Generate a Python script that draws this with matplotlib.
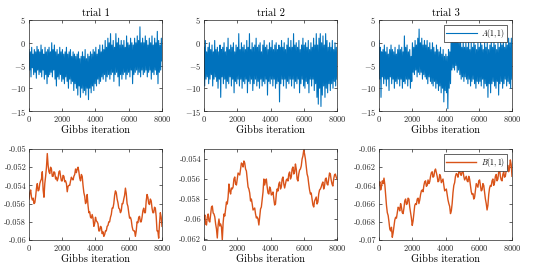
import numpy as np
import matplotlib
matplotlib.use("Agg")
import matplotlib.pyplot as plt
from matplotlib.ticker import FuncFormatter

plt.rcParams['font.family'] = ['cmr10', 'DejaVu Serif']
plt.rcParams['mathtext.fontset'] = 'cm'
plt.rcParams['axes.unicode_minus'] = False
plt.rcParams['axes.formatter.use_mathtext'] = True

# A(1,1) traces, values (high/low excursions in order)
a_trial1 = [
    -1.5, -6.0, -2.0, -7.5, -1.0, -5.5, -2.5, -7.0, -1.5, -6.5,
    -2.0, -7.8, -0.8, -6.0, -1.5, -7.0, -2.0, -6.5, -0.5, -7.5,
    -1.5, -6.0, -2.5, -8.0, -1.0, -7.0, -2.0, -9.0, -1.5, -7.5,
    -1.0, -7.0, -2.0, -6.5, 0.0, -7.5, -1.5, -6.0, -0.5, -8.0,
    -2.0, -9.5, -1.5, -7.5, -2.5, -8.0, -1.0, -7.0, -2.0, -8.5,
    -1.5, -8.0, -2.5, -9.0, -2.0, -7.5, -1.0, -8.5, -2.5, -10.0,
    -2.0, -8.0, -1.5, -9.0, -3.0, -8.5, -2.0, -10.5, -2.5, -9.0,
    -3.0, -10.0, -2.5, -11.5, -2.0, -9.5, -3.5, -12.0, -3.0, -10.0,
    -2.0, -11.0, -3.0, -10.5, -1.5, -11.5, -3.5, -10.0, -2.5, -12.5,
    -3.0, -10.0, -2.0, -11.0, -2.5, -9.5, -1.5, -10.5, -2.0, -9.0,
    -1.0, -9.5, -2.5, -8.0, -1.5, -9.0, -0.5, -8.5, -2.0, -7.5,
    -0.5, -8.0, -1.5, -7.0, 0.5, -8.5, -1.0, -7.5, 1.0, -7.0,
    0.0, -8.0, 2.0, -7.0, -0.5, -6.5, 0.5, -8.5, -1.0, -7.0,
    2.0, -6.5, 0.0, -7.5, 1.0, -9.5, -0.5, -7.0, 0.5, -8.0,
    -0.5, -7.0, 0.5, -6.5, -1.0, -8.0, 1.5, -7.0, 0.0, -6.5,
    -0.5, -7.5, 1.0, -6.0, 0.0, -9.0, -0.5, -7.0, 1.0, -6.5,
    0.0, -6.0, 1.5, -7.0, 0.5, -6.5, 3.5, -7.5, 0.0, -6.0,
    1.0, -7.0, 0.0, -6.5, 1.5, -6.0, 0.5, -7.5, -0.5, -6.5,
    1.0, -6.0, 0.0, -8.0, 1.5, -6.5, -0.5, -7.0, 1.0, -6.0,
    0.0, -7.0, 2.5, -9.0, 0.5, -6.5, -0.5, -6.0, 1.0, -4.0,
]
a_trial2 = [
    -1.0, -9.5, 0.5, -8.0, -2.0, -7.5, -1.0, -9.0, 0.0, -8.0,
    -1.5, -7.0, -0.5, -9.5, -2.0, -8.0, 0.5, -7.5, -1.5, -8.5,
    -1.0, -10.0, -2.0, -8.0, -0.5, -12.0, -1.5, -7.5, -1.0, -9.0,
    0.0, -8.0, -2.0, -10.0, -1.0, -8.5, 1.0, -9.0, -1.5, -7.5,
    -0.5, -9.5, -1.0, -8.0, 0.0, -11.0, -2.0, -8.5, -0.5, -9.0,
    -1.0, -8.0, 2.0, -9.5, -1.5, -8.0, 0.0, -10.0, -1.0, -8.5,
    -0.5, -9.0, -1.5, -8.0, 0.5, -11.0, -1.0, -8.5, 2.0, -9.0,
    -1.5, -8.0, 0.0, -10.5, -1.0, -9.0, -0.5, -8.0, 1.0, -9.5,
    -1.0, -8.5, -0.5, -10.0, 0.0, -8.0, -2.0, -9.5, -0.5, -8.5,
    0.5, -9.0, -1.0, -8.0, -0.5, -11.5, -1.5, -8.5, 0.0, -9.0,
    -1.0, -8.0, 0.5, -9.5, -1.5, -8.0, -0.5, -10.0, 0.0, -9.0,
    -1.5, -8.5, -0.5, -13.0, -1.0, -9.0, 0.5, -8.0, -1.0, -9.5,
    0.0, -8.0, -1.5, -10.0, -0.5, -8.5, 1.0, -9.0, -1.0, -8.0,
    0.5, -9.5, -1.0, -8.0, 2.0, -10.0, -0.5, -8.5, 0.0, -9.0,
    -1.0, -8.0, 0.5, -11.0, -1.5, -9.0, -0.5, -8.0, 1.0, -9.5,
    -0.5, -10.0, 0.0, -8.5, -1.0, -9.0, 0.5, -11.0, -1.5, -8.0,
    0.0, -9.5, -1.0, -8.0, 1.0, -10.5, -0.5, -9.0, 2.0, -12.0,
    -0.5, -13.5, 1.0, -10.0, 2.0, -14.0, 0.0, -11.5, 1.5, -9.5,
    -0.5, -12.0, 2.0, -10.0, 0.5, -11.0, -1.0, -9.0, 0.0, -10.5,
    -1.0, -9.0, 0.5, -10.0, -1.5, -8.5, 0.0, -9.5, -1.0, -8.0,
]
a_trial3 = [
    0.5, -8.0, -1.0, -12.0, -2.0, -7.5, -1.5, -9.0, -0.5, -8.0,
    -2.0, -9.5, -1.0, -8.0, -2.5, -10.5, -1.5, -7.5, -0.5, -9.0,
    -1.5, -8.0, -2.0, -10.0, -1.0, -8.5, -2.5, -9.0, -1.5, -8.0,
    -0.5, -9.5, -1.5, -8.0, -1.0, -10.0, -2.0, -8.5, 1.5, -9.0,
    -1.0, -8.0, -0.5, -9.5, -2.0, -8.0, -1.5, -10.0, -3.0, -8.5,
    0.0, -6.5, -1.0, -7.0, 0.5, -6.0, -0.5, -7.5, 1.0, -6.5,
    3.0, -7.0, 0.0, -6.5, 1.0, -8.0, -0.5, -7.0, 0.5, -7.5,
    -0.5, -8.0, 0.5, -9.0, -1.0, -7.5, 0.0, -8.5, -1.5, -9.0,
    0.0, -9.5, -1.0, -8.5, -2.0, -10.0, -0.5, -9.0, -1.5, -10.5,
    -2.0, -9.5, -1.0, -11.0, -2.5, -10.0, -1.5, -13.0, -3.0, -10.5,
    -2.5, -11.0, -3.0, -14.5, -1.5, -10.0, -2.0, -9.0, 1.0, -6.0,
    1.5, -5.5, 0.5, -6.0, 2.0, -5.0, 1.0, -6.5, 1.5, -6.0,
    0.0, -7.0, 1.0, -8.0, -1.0, -7.5, 0.5, -8.5, -1.0, -7.5,
    0.0, -8.0, -1.0, -9.0, 0.5, -8.0, -1.5, -9.5, 0.0, -8.5,
    -1.0, -8.0, 0.5, -9.0, -0.5, -10.0, -1.5, -8.5, 0.0, -9.0,
    -1.0, -8.5, 0.5, -9.5, -0.5, -8.0, -1.5, -10.0, 0.0, -9.0,
    -1.0, -9.5, 0.0, -12.0, -1.5, -9.0, -0.5, -11.0, 0.5, -9.0,
    -1.0, -8.5, 0.5, -9.5, -0.5, -10.0, -1.5, -8.5, 0.0, -11.5,
    -1.0, -9.0, 0.5, -8.5, -0.5, -10.0, 1.0, -9.0, -1.0, -8.0,
    0.5, -9.5, -0.5, -8.5, 1.0, -9.0, 0.0, -10.0, 1.0, -8.0,
]

# B(1,1) traces, one value every 50 iterations
b_trial1 = [
    -0.0555, -0.0548, -0.0545, -0.0553, -0.0556, -0.0554, -0.0560, -0.0559, -0.0552, -0.0543,
    -0.0538, -0.0546, -0.0545, -0.0538, -0.0535, -0.0533, -0.0525, -0.0545, -0.0553, -0.0538,
    -0.0530, -0.0520, -0.0505, -0.0518, -0.0525, -0.0527, -0.0520, -0.0522, -0.0530, -0.0530,
    -0.0525, -0.0526, -0.0533, -0.0531, -0.0535, -0.0532, -0.0525, -0.0524, -0.0530, -0.0535,
    -0.0535, -0.0529, -0.0530, -0.0536, -0.0535, -0.0538, -0.0547, -0.0541, -0.0540, -0.0540,
    -0.0535, -0.0531, -0.0533, -0.0534, -0.0530, -0.0528, -0.0522, -0.0526, -0.0522, -0.0520,
    -0.0525, -0.0532, -0.0535, -0.0528, -0.0530, -0.0540, -0.0548, -0.0552, -0.0560, -0.0558,
    -0.0550, -0.0562, -0.0570, -0.0569, -0.0575, -0.0576, -0.0572, -0.0576, -0.0585, -0.0582,
    -0.0575, -0.0579, -0.0580, -0.0582, -0.0590, -0.0590, -0.0585, -0.0586, -0.0593, -0.0591,
    -0.0596, -0.0594, -0.0590, -0.0590, -0.0585, -0.0584, -0.0580, -0.0580, -0.0575, -0.0572,
    -0.0565, -0.0565, -0.0560, -0.0551, -0.0546, -0.0548, -0.0555, -0.0559, -0.0565, -0.0566,
    -0.0570, -0.0568, -0.0560, -0.0560, -0.0555, -0.0551, -0.0543, -0.0549, -0.0560, -0.0563,
    -0.0570, -0.0576, -0.0575, -0.0578, -0.0585, -0.0589, -0.0590, -0.0590, -0.0596, -0.0590,
    -0.0580, -0.0581, -0.0575, -0.0574, -0.0580, -0.0580, -0.0575, -0.0568, -0.0565, -0.0570,
    -0.0570, -0.0557, -0.0550, -0.0553, -0.0560, -0.0561, -0.0555, -0.0557, -0.0565, -0.0570,
    -0.0570, -0.0564, -0.0565, -0.0574, -0.0590, -0.0590, -0.0598, -0.0582, -0.0570, -0.0575,
    -0.0585,
]
b_trial2 = [
    -0.0600, -0.0596, -0.0605, -0.0606, -0.0598, -0.0595, -0.0602, -0.0603, -0.0595, -0.0588,
    -0.0587, -0.0594, -0.0595, -0.0598, -0.0605, -0.0610, -0.0619, -0.0606, -0.0600, -0.0607,
    -0.0605, -0.0608, -0.0621, -0.0604, -0.0595, -0.0597, -0.0590, -0.0583, -0.0585, -0.0578,
    -0.0565, -0.0572, -0.0575, -0.0569, -0.0570, -0.0568, -0.0560, -0.0558, -0.0565, -0.0566,
    -0.0560, -0.0554, -0.0555, -0.0556, -0.0550, -0.0544, -0.0545, -0.0548, -0.0542, -0.0544,
    -0.0550, -0.0552, -0.0560, -0.0568, -0.0570, -0.0574, -0.0582, -0.0580, -0.0585, -0.0591,
    -0.0590, -0.0589, -0.0595, -0.0599, -0.0598, -0.0600, -0.0606, -0.0598, -0.0590, -0.0588,
    -0.0580, -0.0573, -0.0560, -0.0566, -0.0562, -0.0560, -0.0568, -0.0574, -0.0575, -0.0568,
    -0.0570, -0.0576, -0.0575, -0.0573, -0.0580, -0.0586, -0.0585, -0.0575, -0.0570, -0.0572,
    -0.0565, -0.0563, -0.0570, -0.0568, -0.0560, -0.0558, -0.0565, -0.0569, -0.0565, -0.0561,
    -0.0560, -0.0562, -0.0555, -0.0553, -0.0560, -0.0558, -0.0550, -0.0548, -0.0555, -0.0553,
    -0.0545, -0.0550, -0.0560, -0.0562, -0.0555, -0.0551, -0.0550, -0.0547, -0.0540, -0.0537,
    -0.0531, -0.0535, -0.0540, -0.0548, -0.0555, -0.0558, -0.0565, -0.0571, -0.0575, -0.0574,
    -0.0580, -0.0586, -0.0588, -0.0582, -0.0580, -0.0578, -0.0585, -0.0583, -0.0575, -0.0571,
    -0.0570, -0.0568, -0.0565, -0.0563, -0.0570, -0.0567, -0.0560, -0.0559, -0.0565, -0.0566,
    -0.0560, -0.0554, -0.0555, -0.0561, -0.0565, -0.0567, -0.0560, -0.0556, -0.0555, -0.0558,
    -0.0560,
]
b_trial3 = [
    -0.0640, -0.0636, -0.0645, -0.0641, -0.0635, -0.0638, -0.0632, -0.0639, -0.0650, -0.0662,
    -0.0670, -0.0673, -0.0680, -0.0688, -0.0690, -0.0686, -0.0697, -0.0692, -0.0685, -0.0678,
    -0.0675, -0.0676, -0.0670, -0.0664, -0.0665, -0.0668, -0.0660, -0.0664, -0.0670, -0.0671,
    -0.0665, -0.0657, -0.0655, -0.0661, -0.0660, -0.0654, -0.0655, -0.0664, -0.0670, -0.0676,
    -0.0684, -0.0679, -0.0670, -0.0662, -0.0660, -0.0661, -0.0655, -0.0654, -0.0660, -0.0656,
    -0.0650, -0.0646, -0.0645, -0.0647, -0.0640, -0.0636, -0.0635, -0.0641, -0.0640, -0.0634,
    -0.0638, -0.0636, -0.0630, -0.0626, -0.0625, -0.0631, -0.0630, -0.0624, -0.0622, -0.0626,
    -0.0630, -0.0636, -0.0635, -0.0628, -0.0630, -0.0637, -0.0635, -0.0633, -0.0640, -0.0646,
    -0.0645, -0.0644, -0.0650, -0.0656, -0.0660, -0.0663, -0.0671, -0.0668, -0.0660, -0.0648,
    -0.0640, -0.0637, -0.0630, -0.0627, -0.0628, -0.0631, -0.0625, -0.0623, -0.0628, -0.0629,
    -0.0625, -0.0624, -0.0630, -0.0634, -0.0632, -0.0630, -0.0635, -0.0636, -0.0630, -0.0633,
    -0.0640, -0.0647, -0.0650, -0.0649, -0.0655, -0.0653, -0.0645, -0.0638, -0.0640, -0.0642,
    -0.0635, -0.0634, -0.0640, -0.0646, -0.0645, -0.0638, -0.0640, -0.0648, -0.0655, -0.0660,
    -0.0667, -0.0662, -0.0650, -0.0643, -0.0640, -0.0641, -0.0635, -0.0633, -0.0640, -0.0637,
    -0.0630, -0.0628, -0.0635, -0.0633, -0.0625, -0.0622, -0.0630, -0.0634, -0.0635, -0.0628,
    -0.0625, -0.0631, -0.0630, -0.0624, -0.0620, -0.0618, -0.0625, -0.0621, -0.0612, -0.0617,
    -0.0630,
]

titles = ['trial 1', 'trial 2', 'trial 3']
a_traces = [a_trial1, a_trial2, a_trial3]
b_traces = [b_trial1, b_trial2, b_trial3]
b_ylims = [(-0.06, -0.05), (-0.0621, -0.053), (-0.07, -0.06)]
b_ticks = [np.arange(-0.06, -0.0499, 0.002), np.arange(-0.062, -0.0539, 0.002), np.arange(-0.07, -0.0599, 0.002)]

blue = '#0072BD'
orange = '#D95319'
axcol = '#262626'

fig = plt.figure(figsize=(5.38, 2.71), dpi=100)
lefts = [29 / 538, 204 / 538, 379 / 538]
w = 133 / 538
h = 91 / 271


def style(ax):
    for s in ax.spines.values():
        s.set_color(axcol)
        s.set_linewidth(0.5)
    ax.tick_params(direction='in', top=True, right=True, length=2.5, width=0.5,
                   labelsize=6, colors=axcol, pad=2)
    ax.set_xlim(0, 8000)
    ax.set_xticks([0, 2000, 4000, 6000, 8000])
    ax.set_xlabel('Gibbs iteration', fontsize=7.5, labelpad=1)


def add_legend(ax):
    leg = ax.legend(loc='upper right', fontsize=5.5, fancybox=False, framealpha=1,
                    edgecolor=axcol, handlelength=4, borderaxespad=0.6,
                    borderpad=0.3, handletextpad=0.6)
    leg.get_frame().set_linewidth(0.5)


for i in range(3):
    ax = fig.add_axes([lefts[i], 1 - 111 / 271, w, h])
    y = a_traces[i]
    x = np.linspace(0, 8000, len(y))
    ax.plot(x, y, color=blue, lw=0.8, label=r'$A(1,1)$')
    ax.set_ylim(-15, 5)
    ax.set_yticks([-15, -10, -5, 0, 5])
    ax.set_title(titles[i], fontsize=7.5, pad=3)
    style(ax)
    if i == 2:
        add_legend(ax)

    ax = fig.add_axes([lefts[i], 1 - 240 / 271, w, h])
    y = b_traces[i]
    x = np.linspace(0, 8000, len(y))
    ax.plot(x, y, color=orange, lw=1.0, label=r'$B(1,1)$')
    ax.set_ylim(*b_ylims[i])
    ax.set_yticks(b_ticks[i])
    ax.yaxis.set_major_formatter(FuncFormatter(lambda v, p: '%g' % round(v, 4)))
    style(ax)
    if i == 2:
        add_legend(ax)

plt.savefig('out.png', dpi=100)
